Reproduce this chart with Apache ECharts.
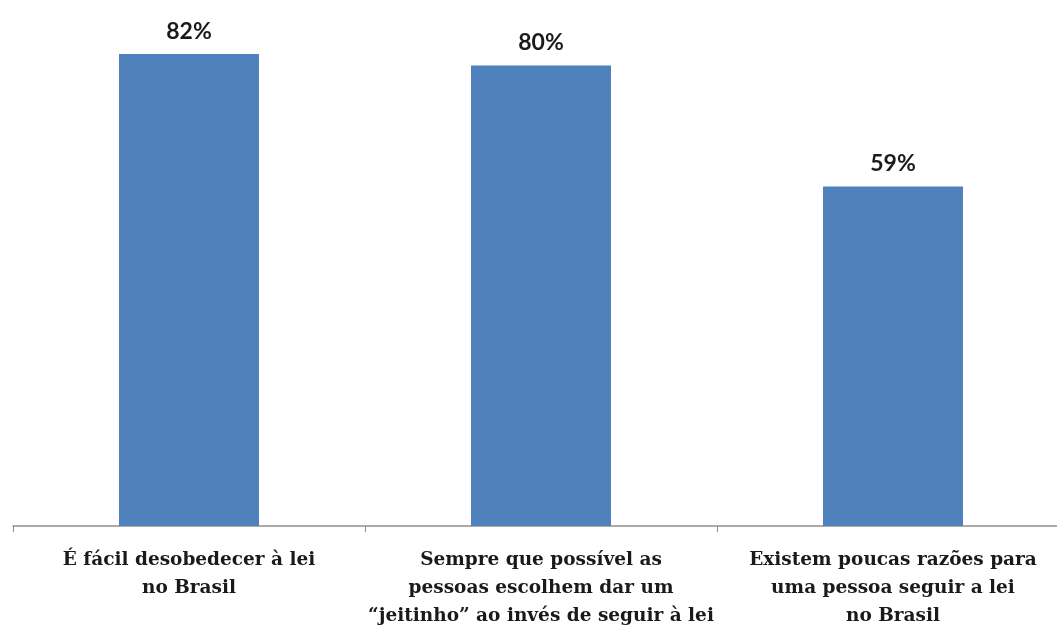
<!DOCTYPE html>
<html>
<head>
<meta charset="utf-8">
<script src="https://cdn.jsdelivr.net/npm/echarts@6/dist/echarts.min.js"></script>
<style>html,body{margin:0;padding:0;background:#fff;overflow:hidden;}#c{width:1069px;height:630px;}</style>
</head>
<body>
<div id="c"></div>
<script>
const categories = [
  'É fácil desobedecer à lei\nno Brasil',
  'Sempre que possível as\npessoas escolhem dar um\n“jeitinho” ao invés de seguir à lei',
  'Existem poucas razões para\numa pessoa seguir a lei\nno Brasil'
];
const values = [82, 80, 59];

const chart = echarts.init(document.getElementById('c'));
chart.setOption({
  animation: false,
  grid: { left: 13, right: 0, top: 8, bottom: 102, containLabel: false },
  xAxis: {
    type: 'category',
    data: categories,
    axisLine: { lineStyle: { color: '#8e8e8e', width: 1.5 } },
    axisTick: { show: true, length: 6, lineStyle: { color: '#8e8e8e' } },
    axisLabel: {
      interval: 0,
      margin: 20,
      color: '#1a1a1a',
      fontFamily: 'DejaVu Serif',
      fontWeight: 'bold',
      fontSize: 18.5,
      lineHeight: 28
    }
  },
  yAxis: {
    type: 'value',
    min: 0,
    max: 90,
    show: false,
    splitLine: { show: false }
  },
  series: [{
    type: 'bar',
    data: values,
    barWidth: 140,
    itemStyle: { color: '#4f81bd' },
    label: {
      show: true,
      position: 'top',
      distance: 11,
      formatter: '{c}%',
      color: '#1a1a1a',
      fontFamily: 'Lato',
      fontWeight: 'bold',
      fontSize: 23
    }
  }]
});
</script>
</body>
</html>
